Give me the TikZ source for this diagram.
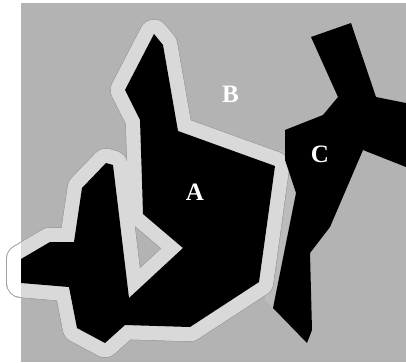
\documentclass[tikz,border=0pt]{standalone}
\usepackage{fontspec}
\setmainfont{Liberation Serif}
\definecolor{bgray}{HTML}{B3B3B3}
\definecolor{halofill}{HTML}{D9D9D9}
\definecolor{haloedge}{HTML}{A2A2A2}
\definecolor{stripgray}{HTML}{BBBBBB}
\newcommand\Apoly[1]{\path[#1] (154,34) -- (163,45) -- (178,131) -- (275,166) -- (259,282) -- (190,327) -- (125,325) -- (105,343) -- (77,328) -- (69,287) -- (21,283) -- (21,259) -- (50,242) -- (74,242) -- (82,188) -- (106,163) -- (113,165) -- (129,298) -- (183,248) -- (143,214) -- (142,181) -- (140,120) -- (125,90) -- cycle;}
\begin{document}
\begin{tikzpicture}[x=1pt,y=-1pt,
  halo/.style={line width=28pt, line join=round, line cap=round},
  lbl/.style={text=white, font=\fontsize{25}{25}\selectfont\bfseries, inner sep=0pt}]
\useasboundingbox (0,0) rectangle (406,362);
\fill[bgray] (21,3) rectangle (406,362);
\fill[stripgray] (285,150) -- (296,193) -- (273,308) -- (265,300) -- (279,150) -- cycle;
\Apoly{draw=haloedge, halo, line width=30pt}
\Apoly{draw=white, halo}
\begin{scope}
  \clip (21,3) rectangle (406,362);
  \Apoly{draw=halofill, halo}
\end{scope}
\Apoly{fill=black}
\fill[black] (285,130) -- (323,115) -- (338,97) -- (311,37) -- (351,23) -- (376,97) -- (406,103) -- (406,167) -- (363,150) -- (330,227) -- (310,253) -- (312,330) -- (307,343) -- (273,308) -- (296,193) -- (285,160) -- cycle;
\node[lbl] (A) at (195,192.5) {A};
\node[lbl] (B) at (230.5,94) {B};
\node[lbl] (C) at (320,154) {C};
\end{tikzpicture}
\end{document}
